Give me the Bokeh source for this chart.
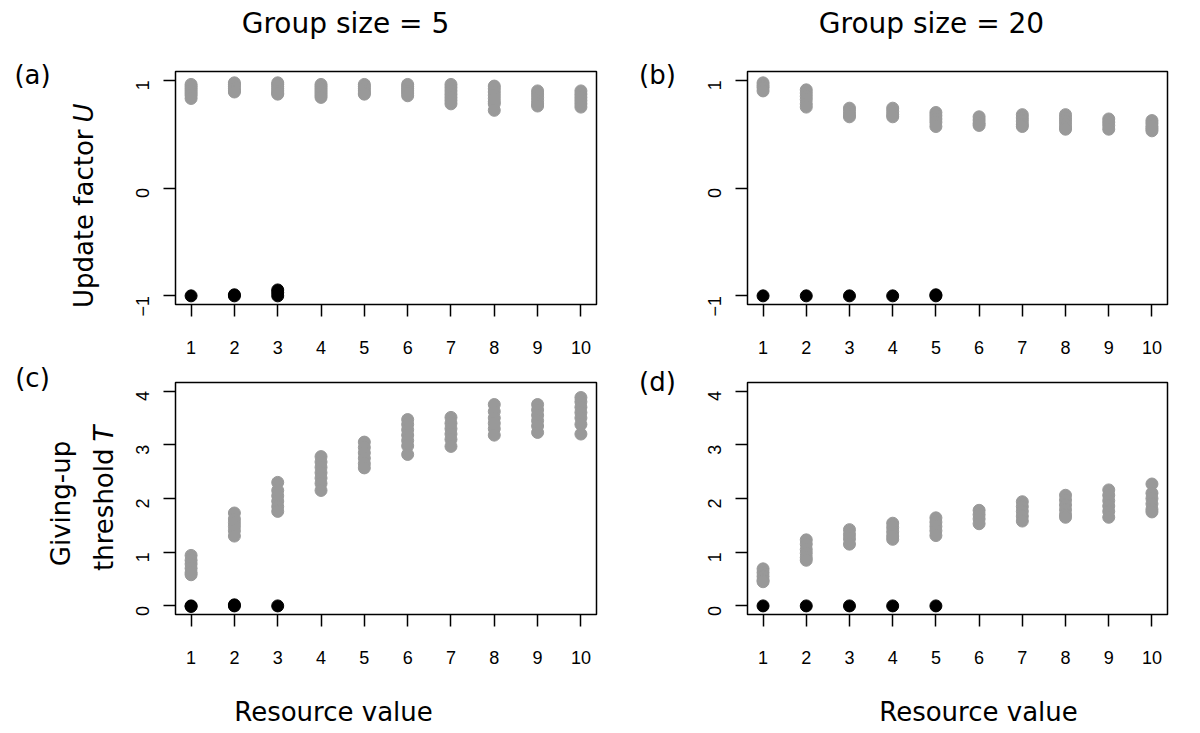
import math
from bokeh.plotting import figure
from bokeh.layouts import column, row
from bokeh.models import FixedTicker, Range1d
from bokeh.core.properties import value
from bokeh.embed import file_html
from bokeh.resources import INLINE

# ---------------- data ----------------
resource_values = [1, 2, 3, 4, 5, 6, 7, 8, 9, 10]

# (a) Update factor U, group size 5
a_grey = [
    [0.96, 0.94, 0.92, 0.90, 0.88, 0.86, 0.83],
    [0.975, 0.96, 0.94, 0.92, 0.90, 0.89],
    [0.975, 0.96, 0.94, 0.92, 0.90, 0.88, 0.87],
    [0.96, 0.94, 0.92, 0.90, 0.88, 0.86, 0.84],
    [0.96, 0.94, 0.92, 0.90, 0.88, 0.87],
    [0.96, 0.94, 0.92, 0.90, 0.88, 0.855],
    [0.96, 0.93, 0.90, 0.87, 0.84, 0.81, 0.78],
    [0.945, 0.92, 0.89, 0.86, 0.83, 0.80, 0.78, 0.72],
    [0.90, 0.87, 0.84, 0.81, 0.78, 0.76],
    [0.90, 0.87, 0.84, 0.81, 0.78, 0.75],
]
a_black = [[-1.0], [-1.0, -0.99], [-1.0, -0.97, -0.945], [], [], [], [], [], [], []]

# (b) Update factor U, group size 20
b_grey = [
    [0.975, 0.95, 0.93, 0.90],
    [0.91, 0.88, 0.85, 0.82, 0.78, 0.75],
    [0.74, 0.71, 0.68, 0.66],
    [0.74, 0.71, 0.68, 0.66],
    [0.70, 0.67, 0.64, 0.61, 0.57],
    [0.66, 0.63, 0.60, 0.58],
    [0.68, 0.65, 0.62, 0.59, 0.57],
    [0.68, 0.65, 0.62, 0.59, 0.56, 0.545],
    [0.64, 0.61, 0.58, 0.545],
    [0.625, 0.60, 0.57, 0.55, 0.53],
]
b_black = [[-1.0], [-1.0], [-1.0], [-1.0], [-1.0, -0.99], [], [], [], [], []]

# (c) Giving-up threshold T, group size 5
c_grey = [
    [0.94, 0.85, 0.78, 0.70, 0.62, 0.58],
    [1.73, 1.62, 1.55, 1.48, 1.40, 1.30],
    [2.30, 2.15, 2.05, 1.95, 1.85, 1.76],
    [2.78, 2.68, 2.58, 2.48, 2.38, 2.28, 2.15],
    [3.05, 2.95, 2.85, 2.75, 2.65, 2.57],
    [3.47, 3.38, 3.28, 3.18, 3.08, 2.98, 2.82],
    [3.51, 3.40, 3.30, 3.20, 3.10, 2.97],
    [3.75, 3.62, 3.50, 3.40, 3.30, 3.18],
    [3.75, 3.65, 3.55, 3.45, 3.35, 3.23],
    [3.88, 3.80, 3.70, 3.60, 3.50, 3.38, 3.20],
]
c_black = [[0.0, -0.01], [0.0, 0.02], [0.0], [], [], [], [], [], [], []]

# (d) Giving-up threshold T, group size 20
d_grey = [
    [0.69, 0.62, 0.55, 0.48, 0.45],
    [1.23, 1.15, 1.05, 0.98, 0.90, 0.85],
    [1.42, 1.33, 1.25, 1.15],
    [1.54, 1.46, 1.38, 1.30, 1.24],
    [1.64, 1.56, 1.48, 1.40, 1.31],
    [1.78, 1.70, 1.62, 1.53],
    [1.94, 1.85, 1.76, 1.67, 1.58],
    [2.06, 1.97, 1.88, 1.79, 1.70, 1.65],
    [2.16, 2.06, 1.96, 1.86, 1.76, 1.65],
    [2.27, 2.10, 2.00, 1.90, 1.80, 1.75],
]
d_black = [[0.0], [0.0], [0.0], [0.0], [0.0], [], [], [], [], []]

u_ticks = [-1, 0, 1]
t_ticks = [0, 1, 2, 3, 4]
u_range = (-1.08, 1.08)
t_range = (-0.16, 4.16)
x_range = (0.64, 10.36)

col_titles = ["Group size = 5", "Group size = 20"]
panel_tags = ["(a)", "(b)", "(c)", "(d)"]
x_label = "Resource value"

GREY = "#999999"
BIG_FONT = "DejaVu Sans"
BIG_SIZE = "26px"
TITLE_SIZE = "28px"
TICK_FONT = "Liberation Sans"
TICK_SIZE = "18px"

# ---------------- layout: origin and size of each piece (page px) ----------------
spec = {
    "header": dict(origin=(0, 0), size=(1195, 48)),
    "tL": dict(origin=(0, 48), size=(120, 642)),
    "a": dict(origin=(120, 48), size=(500, 320), frame=(175, 71, 596, 304)),
    "c": dict(origin=(120, 368), size=(500, 322), frame=(174, 382, 596, 614)),
    "tM": dict(origin=(620, 48), size=(70, 642)),
    "b": dict(origin=(690, 48), size=(505, 320), frame=(747, 71, 1168, 304)),
    "d": dict(origin=(690, 368), size=(505, 322), frame=(745, 382, 1167, 614)),
    "footer": dict(origin=(0, 690), size=(1195, 40)),
}


def flatten(cols):
    xs, ys = [], []
    for xv, col in zip(resource_values, cols):
        for yv in col:
            xs.append(xv)
            ys.append(yv)
    return xs, ys


def make_panel(key, yr, yticks, grey, black):
    s = spec[key]
    ox, oy = s["origin"]
    w, h = s["size"]
    L, T, R, B = s["frame"]
    p = figure(
        width=w, height=h, x_range=Range1d(*x_range), y_range=Range1d(*yr),
        output_backend="svg", toolbar_location=None, title=None,
        min_border_left=L - ox, min_border_right=ox + w - R,
        min_border_top=T - oy, min_border_bottom=oy + h - B,
        background_fill_color="white", border_fill_color="white",
    )
    p.xgrid.visible = False
    p.ygrid.visible = False
    p.outline_line_color = "black"
    p.outline_line_width = 1.5
    p.outline_line_alpha = 1.0
    for ax in (p.xaxis[0], p.yaxis[0]):
        ax.axis_line_color = None
        ax.major_tick_line_color = "black"
        ax.major_tick_line_width = 1.5
        ax.major_tick_in = 0
        ax.major_tick_out = 12
        ax.minor_tick_line_color = None
        ax.major_label_text_font = TICK_FONT
        ax.major_label_text_font_size = TICK_SIZE
        ax.major_label_text_color = "black"
    p.xaxis[0].ticker = FixedTicker(ticks=resource_values)
    p.xaxis[0].major_label_standoff = 24
    p.yaxis[0].ticker = FixedTicker(ticks=yticks)
    p.yaxis[0].major_label_orientation = math.pi / 2
    p.yaxis[0].major_label_standoff = 21

    gx, gy = flatten(grey)
    bx, by = flatten(black)
    p.scatter(gx, gy, size=12, marker="circle", color=GREY, line_color=GREY)
    p.scatter(bx, by, size=12, marker="circle", color="black", line_color="black")
    return p


def make_text(key):
    s = spec[key]
    w, h = s["size"]
    f = figure(
        width=w, height=h, x_range=Range1d(0, w), y_range=Range1d(h, 0),
        output_backend="svg", toolbar_location=None, title=None,
        x_axis_location=None, y_axis_location=None, min_border=0,
        background_fill_color="white", border_fill_color="white",
    )
    f.grid.visible = False
    f.outline_line_color = None
    f._origin = s["origin"]
    return f


def put(f, txt, px, py, align="center", angle=0.0, style="normal", size=BIG_SIZE):
    ox, oy = f._origin
    f.text(
        x=[px - ox], y=[py - oy], text=[txt], angle=angle,
        text_align=align, text_baseline="middle",
        text_font=value(BIG_FONT), text_font_size=value(size),
        text_font_style=style, text_color="black",
    )


pa = make_panel("a", u_range, u_ticks, a_grey, a_black)
pb = make_panel("b", u_range, u_ticks, b_grey, b_black)
pc = make_panel("c", t_range, t_ticks, c_grey, c_black)
pd = make_panel("d", t_range, t_ticks, d_grey, d_black)

header = make_text("header")
tL = make_text("tL")
tM = make_text("tM")
footer = make_text("footer")

V = math.pi / 2
put(header, col_titles[0], 345, 23, size=TITLE_SIZE)
put(header, col_titles[1], 931, 23, size=TITLE_SIZE)

put(tL, panel_tags[0], 32, 74)
put(tL, "Update factor", 83, 129, align="right", angle=V)
put(tL, "U", 83, 122, align="left", angle=V, style="italic")
put(tL, panel_tags[2], 32, 377)
put(tL, "Giving-up", 60, 503, angle=V)
put(tL, "threshold", 103, 448, align="right", angle=V)
put(tL, "T", 103, 441, align="left", angle=V, style="italic")

put(tM, panel_tags[1], 657, 74)
put(tM, panel_tags[3], 657, 381)

put(footer, x_label, 333, 711)
put(footer, x_label, 978, 711)

layout = column(
    header,
    row(tL, column(pa, pc), tM, column(pb, pd)),
    footer,
)
open("out.html", "w").write(file_html(layout, INLINE))
